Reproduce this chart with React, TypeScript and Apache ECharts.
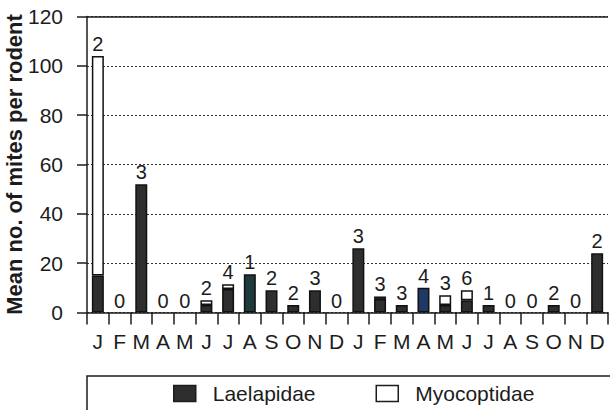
import React, { useEffect, useRef } from "react";
import * as echarts from "echarts";

// Two years of monthly samples
const months = ["J", "F", "M", "A", "M", "J", "J", "A", "S", "O", "N", "D", "J", "F", "M", "A", "M", "J", "J", "A", "S", "O", "N", "D"];
// Mean mites per rodent, by family
const laelapidae = [15, 0, 52, 0, 0, 3, 9.5, 15.5, 9, 3, 9, 0, 26, 5.5, 3, 10, 3, 5, 3, 0, 0, 3, 0, 24];
const myocoptidae = [89, 0, 0, 0, 0, 2, 2, 0, 0, 0, 0, 0, 0, 1, 0, 0, 4, 4, 0, 0, 0, 0, 0, 0];
// Number of rodents examined each month
const rodentsSampled = [2, 0, 3, 0, 0, 2, 4, 1, 2, 2, 3, 0, 3, 3, 3, 4, 3, 6, 1, 0, 0, 2, 0, 2];
const yTicks = { min: 0, max: 120, interval: 20 };

const FONT = "'Liberation Sans', Arial, Helvetica, sans-serif";
const INK = "#1c1c1c";
const DARK = "#2e2e2e";
// a couple of bars print in a tinted ink
const tinted: Record<number, string> = { 7: "#1f3a3c", 15: "#1f3866" };

export default function App() {
  const ref = useRef<HTMLDivElement>(null);

  useEffect(() => {
    if (!ref.current) return;
    const chart = echarts.init(ref.current, undefined, { renderer: "svg" });

    const laelData = laelapidae.map((v, i) => ({
      value: v,
      itemStyle: {
        color: tinted[i] ?? DARK,
        borderWidth: v === 0 ? 0 : 1.5,
      },
    }));
    const myoData = myocoptidae.map((v) => ({
      value: v,
      itemStyle: v === 0 ? { color: "rgba(0,0,0,0)", borderWidth: 0 } : { color: "#fff", borderWidth: 1.5 },
    }));

    chart.setOption({
      animation: false,
      textStyle: { fontFamily: FONT, color: INK },
      grid: { left: 87, right: 2, top: 16.5, bottom: 97.5, containLabel: false, outerBoundsMode: "none" },
      legend: {
        left: 173,
        top: 383,
        padding: 0,
        itemWidth: 22,
        itemHeight: 16,
        itemGap: 60,
        icon: "rect",
        textStyle: { fontSize: 21, color: INK, fontFamily: FONT, padding: [0, 0, 0, 12] },
        data: [
          { name: "Laelapidae", itemStyle: { color: DARK, borderColor: INK, borderWidth: 1.5 } },
          { name: "Myocoptidae", itemStyle: { color: "#fff", borderColor: INK, borderWidth: 1.5 } },
        ],
      },
      graphic: [
        {
          type: "rect",
          shape: { x: 87, y: 376, width: 600, height: 80 },
          style: { fill: "none", stroke: INK, lineWidth: 1.5 },
          silent: true,
        },
      ],
      xAxis: {
        type: "category",
        data: months,
        boundaryGap: true,
        axisLine: { lineStyle: { color: INK, width: 1.5 } },
        axisTick: { show: true, length: 12, interval: 0, lineStyle: { color: INK, width: 1.5 } },
        axisLabel: { interval: 0, fontSize: 21, color: INK, margin: 18, fontFamily: FONT },
      },
      yAxis: {
        type: "value",
        min: yTicks.min,
        max: yTicks.max,
        interval: yTicks.interval,
        name: "Mean no. of mites per rodent",
        nameLocation: "middle",
        nameRotate: 90,
        nameGap: 62,
        nameMoveOverlap: false,
        nameTextStyle: { fontSize: 22, fontWeight: "bold", color: INK, fontFamily: FONT },
        axisLine: { show: true, lineStyle: { color: INK, width: 1.5 } },
        axisTick: { show: true, length: 10, lineStyle: { color: INK, width: 1.5 } },
        axisLabel: { fontSize: 21, color: INK, margin: 24, fontFamily: FONT },
        splitLine: { show: true, lineStyle: { color: "#333", width: 1, type: [2, 2] } },
      },
      series: [
        {
          name: "Laelapidae",
          type: "bar",
          stack: "mites",
          barWidth: 12,
          itemStyle: { borderColor: "#111" },
          data: laelData,
          markLine: {
            silent: true,
            symbol: "none",
            label: { show: false },
            lineStyle: { color: INK, width: 1.5, type: "solid" },
            data: [{ yAxis: yTicks.max }],
          },
        },
        {
          name: "Myocoptidae",
          type: "bar",
          stack: "mites",
          barWidth: 12,
          itemStyle: { borderColor: "#111" },
          data: myoData,
          label: {
            show: true,
            position: "top",
            distance: 2,
            fontSize: 20,
            color: INK,
            fontFamily: FONT,
            formatter: (p: any) => String(rodentsSampled[p.dataIndex]),
          },
        },
      ],
    });

    return () => chart.dispose();
  }, []);

  return (
    <div
      ref={ref}
      style={{ position: "fixed", left: 0, top: 0, width: 610, height: 410, background: "#fff" }}
    />
  );
}
